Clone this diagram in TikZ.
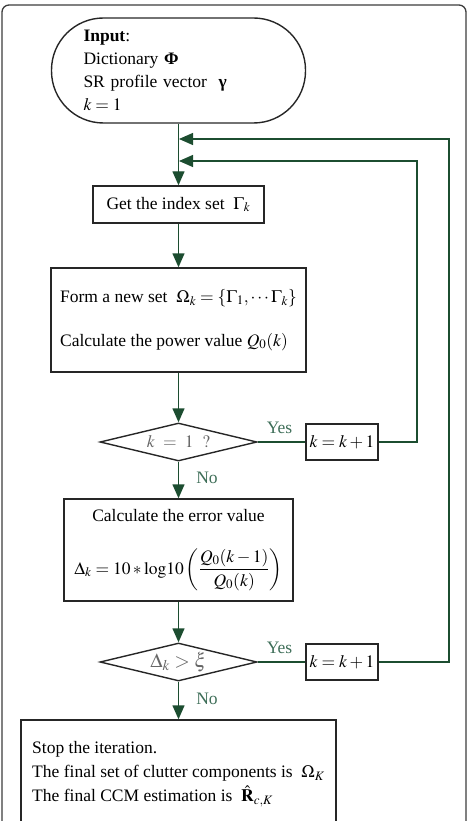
\documentclass[tikz,border=0pt]{standalone}
\usepackage{amsmath}
\usepackage{mathptmx}
\usepackage[no-math]{fontspec}
\setmainfont{Liberation Serif}
\usetikzlibrary{shapes.geometric,arrows.meta}
\definecolor{flowgreen}{RGB}{28,77,48}
\definecolor{labelgreen}{RGB}{62,110,88}
\definecolor{framegray}{RGB}{60,60,60}
\begin{document}
\begin{tikzpicture}[x=1pt, y=-1pt,
    font=\fontsize{17.5}{22}\selectfont,
    stepbox/.style={draw=black!85, line width=1.4pt, rectangle, inner sep=0pt},
    testbox/.style={draw=black!85, line width=1.4pt, diamond, aspect=4.1, inner sep=0pt,
                    minimum width=157pt, minimum height=38pt, text=black!60},
    flow/.style={draw=flowgreen, line width=1.4pt, -{Triangle[length=14pt,width=12pt]}},
    link/.style={draw=flowgreen, line width=1.4pt},
    answer/.style={text=labelgreen}]
  \useasboundingbox (0,0) rectangle (469,821);
  \draw[framegray, line width=1.3pt, rounded corners=7pt] (2,830) |- (466,5) -- (466,830);

  \node[stepbox, rounded corners=52pt, minimum height=105pt, text width=190pt, inner xsep=32pt,
        align=left, font=\fontsize{17.5}{23}\selectfont] (input) at (178.5,70.5)
    {\textbf{Input}:\\ Dictionary \textbf{Φ}\\ SR profile vector \ \textbf{γ}\\ $k=1$};
  \node[stepbox, minimum width=171pt, minimum height=37pt] (index) at (178.5,204.5)
    {Get the index set \ $\Gamma_k$};
  \node[stepbox, minimum width=255pt, minimum height=104pt, align=left] (form) at (178.5,320)
    {Form a new set \ $\Omega_k=\{\Gamma_1,\cdots\Gamma_k\}$\\[22pt] Calculate the power value $Q_0(k)$};
  \node[testbox] (first) at (178.5,442) {$k\ =\ 1\ \ ?$};
  \node[stepbox, minimum width=72pt, minimum height=36pt] (inc1) at (342,442) {$k=k+1$};
  \node[stepbox, minimum width=229pt, minimum height=102pt, align=center] (error) at (178.5,550)
    {Calculate the error value\\[26pt]
     $\Delta_k = 10*\mathrm{log}10\left(\dfrac{Q_0(k-1)}{Q_0(k)}\right)$};
  \node[testbox, font=\fontsize{20}{24}\selectfont] (second) at (178.5,662) {$\Delta_k>\xi$};
  \node[stepbox, minimum width=72pt, minimum height=36pt] (inc2) at (342,662) {$k=k+1$};
  \node[stepbox, minimum width=315pt, minimum height=108pt, align=left,
        font=\fontsize{17.5}{24}\selectfont] (stop) at (178.5,774)
    {Stop the iteration.\\ The final set of clutter components is \ $\Omega_K$\\
     The final CCM estimation is \ $\hat{\mathbf{R}}_{c,K}$};

  \node[answer] (yes1) at (279.5,428) {Yes};
  \node[answer] (no1) at (207,478) {No};
  \node[answer] (yes2) at (279.5,648) {Yes};
  \node[answer] (no2) at (207,699) {No};

  \coordinate (back1) at (179,139);
  \coordinate (back2) at (179,161);
  \coordinate (turn1) at (417,161);
  \coordinate (turn2) at (449,139);

  \draw[flow] (input) -- (index);
  \draw[flow] (index) -- (form);
  \draw[flow] (form) -- (first);
  \draw[flow] (first) -- (error);
  \draw[flow] (error) -- (second);
  \draw[flow] (second) -- (stop);
  \draw[link] (first) -- (inc1);
  \draw[link] (second) -- (inc2);
  \draw[flow] (inc1.east) -| (turn1) -- (back2);
  \draw[flow] (inc2.east) -| (turn2) -- (back1);
\end{tikzpicture}
\end{document}
